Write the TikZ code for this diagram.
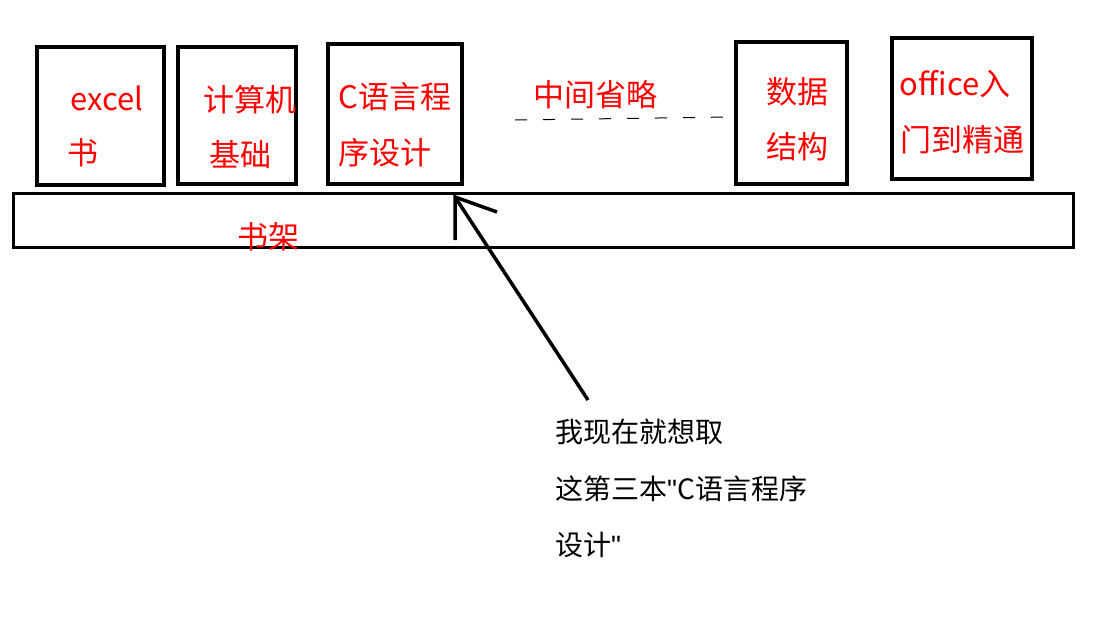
\documentclass[tikz,border=0pt]{standalone}
\usepackage{fontspec}
\setmainfont{Noto Sans CJK SC}
\newfontfamily\qf{Liberation Sans}
\begin{document}
\begin{tikzpicture}[x=1pt,y=-1pt,
  book/.style={draw=black,line width=4pt},
  rt/.style={text=red,font=\fontsize{31}{33}\selectfont,inner sep=0pt},
  bt/.style={text=black,font=\fontsize{28}{30}\selectfont,inner sep=0pt,anchor=west}]
\useasboundingbox (0,0) rectangle (1106,618);
\draw[book] (37,47) rectangle (164,185);
\draw[book] (178,47) rectangle (296,184);
\draw[book] (328,44) rectangle (462,184);
\draw[book] (736,42) rectangle (847,184);
\draw[book] (892,38) rectangle (1032,179);
\draw[line width=3pt] (13,193) rectangle (1073,247);
\node[rt] (a1) at (107,98) {excel};
\node[rt] (a2) at (83,153) {书};
\node[rt] (b1) at (250,100) {计算机};
\node[rt] (b2) at (240,155) {基础};
\node[rt] (c1) at (395,97) {C语言程};
\node[rt] (c2) at (385,153) {序设计};
\node[rt] (m) at (595,95) {中间省略};
\draw[line width=1pt,dash pattern=on 12pt off 16pt] (515,120) -- (730,117);
\node[rt] (d1) at (797,92) {数据};
\node[rt] (d2) at (797,147) {结构};
\node[rt] (e1) at (955,84) {office入};
\node[rt] (e2) at (962,140) {门到精通};
\node[rt] (s) at (268,237) {书架};
\coordinate (tip) at (455,197);
\coordinate (tail) at (588,400);
\draw[line width=3.5pt] (tail) -- (tip);
\draw[line width=3.5pt] (455,240) -- (tip) -- (497,212);
\node[bt] (t1) at (555,432) {我现在就想取};
\node[bt] (t2) at (555,489) {这第三本{\qf"}C语言程序};
\node[bt] (t3) at (555,545) {设计{\qf"}};
\end{tikzpicture}
\end{document}
